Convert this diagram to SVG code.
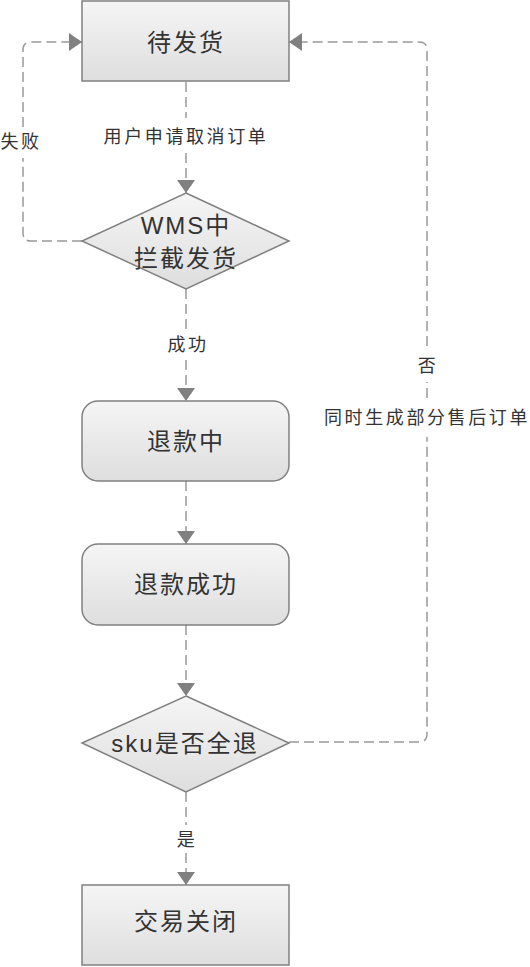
<svg xmlns="http://www.w3.org/2000/svg" width="530" height="967" viewBox="0 0 530 967">
<defs>
<linearGradient id="g" x1="0" y1="0" x2="0" y2="1">
<stop offset="0" stop-color="#f5f5f5"/>
<stop offset="1" stop-color="#dedede"/>
</linearGradient>
<marker id="arr" viewBox="0 0 13 18" refX="13" refY="9" markerWidth="13" markerHeight="18" orient="auto" markerUnits="userSpaceOnUse">
<path d="M0,0 L13,9 L0,18 Z" fill="#808080"/>
</marker>
<style>
.shape{fill:url(#g);stroke:#808080;stroke-width:1.5}
.nt{font-family:"Liberation Sans","Noto Sans CJK SC",sans-serif;font-size:24px;letter-spacing:2px;fill:#333;text-anchor:middle;dominant-baseline:central}
.et{font-family:"Liberation Sans","Noto Sans CJK SC",sans-serif;font-size:18px;letter-spacing:2.6px;fill:#333;text-anchor:middle;dominant-baseline:central}
.c{fill:none;stroke:#999;stroke-width:1.5;stroke-dasharray:10 5}
.a{marker-end:url(#arr)}
</style>
</defs>
<rect width="530" height="967" fill="#fff"/>
<g id="connectors">
<path class="c" d="M186,82 V118"/>
<path class="c a" d="M186,153 V193"/>
<path class="c" d="M82,241 H31 Q23,241 23,233 V158"/>
<path class="c a" d="M23,127 V50 Q23,42 31,42 H82"/>
<path class="c" d="M186,289 V330"/>
<path class="c a" d="M186,360 V401"/>
<path class="c a" d="M186,481 V544"/>
<path class="c a" d="M186,625 V696"/>
<path class="c" d="M186,792 V825"/>
<path class="c a" d="M186,853 V885"/>
<path class="c" d="M289,742 H419 Q427,742 427,734 V437"/>
<path class="c" d="M427,398 V382"/>
<path class="c a" d="M427,346 V50 Q427,42 419,42 H289"/>
<text class="et" x="186" y="137">用户申请取消订单</text>
<text class="et" x="21" y="142">失败</text>
<text class="et" x="188" y="345">成功</text>
<text class="et" x="428" y="366">否</text>
<text class="et" x="427" y="418">同时生成部分售后订单</text>
<text class="et" x="187" y="840">是</text>
</g>
<g id="n1"><rect class="shape" x="82" y="1" width="207" height="80"/><text class="nt" x="186" y="42">待发货</text></g>
<g id="n2"><path class="shape" d="M186,193 L289,241 L186,289 L82,241 Z"/><text class="nt" x="186" y="225">WMS中</text><text class="nt" x="186" y="258">拦截发货</text></g>
<g id="n3"><rect class="shape" x="82" y="401" width="207" height="80" rx="16"/><text class="nt" x="186" y="441">退款中</text></g>
<g id="n4"><rect class="shape" x="82" y="544" width="207" height="81" rx="16"/><text class="nt" x="186" y="584">退款成功</text></g>
<g id="n5"><path class="shape" d="M186,696 L289,743 L186,792 L82,743 Z"/><text class="nt" x="185" y="743">sku是否全退</text></g>
<g id="n6"><rect class="shape" x="82" y="885" width="207" height="80"/><text class="nt" x="186" y="921">交易关闭</text></g>
</svg>
